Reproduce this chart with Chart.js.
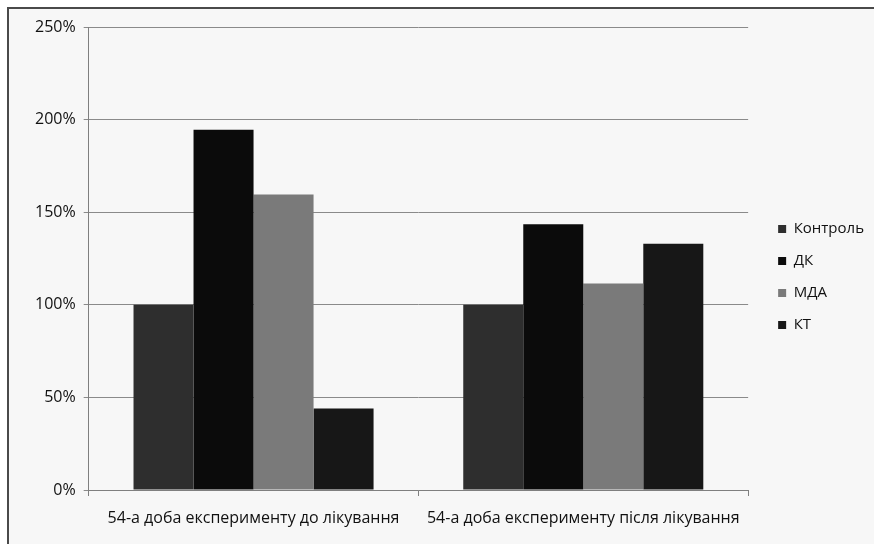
<!DOCTYPE html>
<html>
<head>
<meta charset="utf-8">
<script src="https://cdn.jsdelivr.net/npm/chart.js@4/dist/chart.umd.min.js"></script>
<style>
  html, body { margin: 0; padding: 0; background: #ffffff; }
  #wrap { position: relative; width: 874px; height: 544px; }
  #frame { position: absolute; left: 7px; top: 7px; right: 0; bottom: 0;
           border-left: 2px solid #4a4a4a; border-top: 2px solid #4a4a4a;
           background: #f7f7f7; }
  canvas { position: absolute; left: 0; top: 0; }
</style>
</head>
<body>
<div id="wrap">
  <div id="frame"></div>
  <canvas id="c" width="874" height="544"></canvas>
</div>
<script>
// Categories and series (percent of control)
const categories = [
  "54-а доба експерименту до лікування",
  "54-а доба експерименту після лікування"
];
const seriesNames = ["Контроль", "ДК", "МДА", "КТ"];
const kontrol = [100, 100];
const dk = [194.5, 143.5];
const mda = [159.5, 111.5];
const kt = [44, 133];
const yTicks = [0, 50, 100, 150, 200, 250];

const colors = ["#2e2e2e", "#0b0b0b", "#7a7a7a", "#171717"];
const values = [kontrol, dk, mda, kt];

const FONT = "'Open Sans', 'Noto Sans', sans-serif";

new Chart(document.getElementById("c"), {
  type: "bar",
  data: {
    labels: categories,
    datasets: seriesNames.map((name, i) => ({
      label: name,
      data: values[i],
      backgroundColor: colors[i],
      borderWidth: 0,
      barPercentage: 1.0,
      categoryPercentage: 0.728
    }))
  },
  options: {
    responsive: false,
    animation: false,
    layout: { padding: { left: 27, right: 0, top: 27, bottom: 17 } },
    plugins: {
      tooltip: { enabled: false },
      legend: {
        position: "right",
        align: "center",
        labels: {
          boxWidth: 8,
          boxHeight: 8,
          padding: 17,
          color: "#111",
          font: { family: FONT, size: 15 }
        }
      }
    },
    scales: {
      x: {
        grid: {
          display: true,
          drawOnChartArea: false,
          drawTicks: true,
          tickLength: 6,
          color: "#7f7f7f",
          offset: true
        },
        border: { display: true, color: "#7f7f7f", width: 1 },
        ticks: {
          color: "#111",
          padding: 13,
          maxRotation: 0,
          autoSkip: false,
          font: { family: FONT, size: 16 }
        },
        afterFit: (s) => { s.height = 37; }
      },
      y: {
        min: 0,
        max: 250,
        afterBuildTicks: (axis) => { axis.ticks = yTicks.map(v => ({ value: v })); },
        grid: {
          color: "#8a8a8a",
          drawTicks: true,
          tickLength: 5,
          lineWidth: 1
        },
        border: { display: true, color: "#7f7f7f", width: 1 },
        ticks: {
          color: "#111",
          padding: 8,
          font: { family: FONT, size: 16 },
          callback: (v) => v + "%"
        }
      },
      // empty spacer between the plot and the legend
      gap: {
        type: "linear",
        position: "right",
        display: true,
        grid: { display: false, drawTicks: false },
        border: { display: false },
        ticks: { display: false },
        afterFit: (s) => { s.width = 13; }
      }
    }
  }
});
</script>
</body>
</html>
